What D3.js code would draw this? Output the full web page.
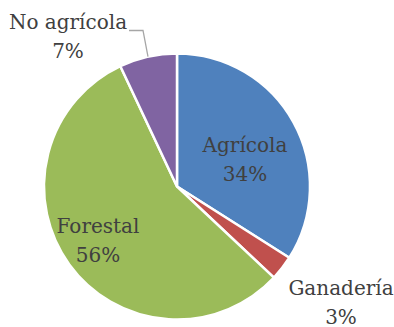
<!DOCTYPE html>
<html>
<head>
<meta charset="utf-8">
<script src="https://cdn.jsdelivr.net/npm/d3@7"></script>
<style>
  html, body { margin: 0; padding: 0; background: #fff; }
  svg { display: block; }
  text { font-family: "DejaVu Serif", "Liberation Serif", serif; fill: #404040; }
</style>
</head>
<body>
<svg id="chart" width="394" height="327"></svg>
<script>
// Land use shares
const categories = ["Agrícola", "Ganadería", "Forestal", "No agrícola"];
const values = [34, 3, 56, 7];
const colors = ["#4F81BD", "#C0504D", "#9BBB59", "#8064A2"];

const svg = d3.select("#chart");
const cx = 177, cy = 186.5, radius = 133;

const pie = d3.pie().sort(null).value(d => d.value);
const arc = d3.arc().innerRadius(0).outerRadius(radius);

const data = categories.map((c, i) => ({ name: c, value: values[i], color: colors[i] }));
const arcs = pie(data);

const g = svg.append("g").attr("transform", `translate(${cx},${cy})`);

g.selectAll("path")
  .data(arcs)
  .join("path")
  .attr("d", arc)
  .attr("fill", d => d.data.color)
  .attr("stroke", "#fff")
  .attr("stroke-width", 2.5)
  .attr("stroke-linejoin", "round");

// Label anchor: x center and first-line baseline, relative to pie center
const labelPos = {
  "Agrícola": [68, -34.5],
  "Ganadería": [164, 108],
  "Forestal": [-79, 46.5],
  "No agrícola": [-109, -157.5]
};
const fontSize = 20;
const lineGap = 29;

const labels = svg.append("g").attr("transform", `translate(${cx},${cy})`);
arcs.forEach(d => {
  const [lx, ly] = labelPos[d.data.name];
  const t = labels.append("text")
    .attr("text-anchor", "middle")
    .attr("font-size", fontSize);
  t.append("tspan").attr("x", lx).attr("y", ly).text(d.data.name);
  t.append("tspan").attr("x", lx).attr("y", ly + lineGap).text(d.data.value + "%");
});

// Leader line for the small "No agrícola" slice
const na = arcs[3];
const mid = (na.startAngle + na.endAngle) / 2;
const edge = [Math.sin(mid) * radius, -Math.cos(mid) * radius];
labels.append("polyline")
  .attr("points", [[-48, -156], [-34, -156], edge].map(p => p.join(",")).join(" "))
  .attr("fill", "none")
  .attr("stroke", "#A6A6A6")
  .attr("stroke-width", 1.3);
</script>
</body>
</html>
